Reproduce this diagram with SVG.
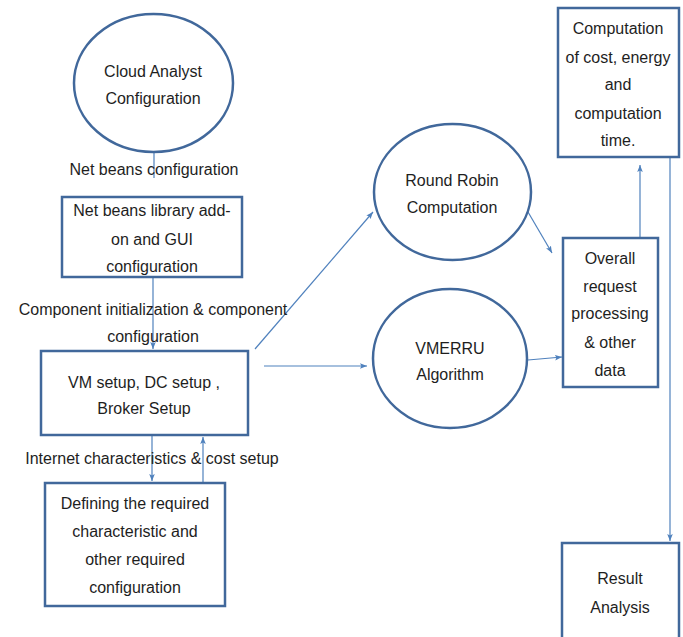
<svg xmlns="http://www.w3.org/2000/svg" width="683" height="637" viewBox="0 0 683 637">
<style>
.node{fill:#fff;stroke:#41689b;stroke-width:2.5}
.t{font-family:"Liberation Sans",Arial,sans-serif;font-size:16px;fill:#1e1e1e;text-anchor:middle;dominant-baseline:central}
.c{stroke:#4f81bd;stroke-width:1.2;fill:none}
</style>
<defs>
<marker id="ah" viewBox="0 0 10 10" refX="10" refY="5" markerWidth="7" markerHeight="7" markerUnits="userSpaceOnUse" orient="auto">
<path d="M0,1 L10,5 L0,9 L2,5 Z" fill="#4f81bd"/>
</marker>
</defs>
<rect width="683" height="637" fill="#fff"/>
<g id="connectors">
<line class="c" x1="154" y1="152" x2="154" y2="178"/>
<line class="c" x1="153" y1="277" x2="153" y2="349" marker-end="url(#ah)"/>
<line class="c" x1="152" y1="435" x2="152" y2="481" marker-end="url(#ah)"/>
<line class="c" x1="203" y1="512" x2="203" y2="437" marker-end="url(#ah)"/>
<line class="c" x1="255" y1="349" x2="373" y2="212" marker-end="url(#ah)"/>
<line class="c" x1="264" y1="366" x2="367" y2="366" marker-end="url(#ah)"/>
<line class="c" x1="528" y1="212" x2="552" y2="253" marker-end="url(#ah)"/>
<line class="c" x1="528" y1="360" x2="562" y2="357" marker-end="url(#ah)"/>
<line class="c" x1="640" y1="238" x2="640" y2="165" marker-end="url(#ah)"/>
<line class="c" x1="670" y1="157" x2="670" y2="541" marker-end="url(#ah)"/>
</g>
<g id="labels">
<text class="t" x="154" y="169">Net beans configuration</text>
<text class="t" x="153" y="309">Component initialization &amp; component</text>
<text class="t" x="153" y="336">configuration</text>
<text class="t" x="152" y="458">Internet characteristics &amp; cost setup</text>
</g>
<g id="cloud-analyst">
<ellipse class="node" cx="153.5" cy="83" rx="79.5" ry="69"/>
<text class="t" x="153" y="71">Cloud Analyst</text>
<text class="t" x="153" y="98">Configuration</text>
</g>
<g id="netbeans-library">
<rect class="node" x="62" y="197" width="180" height="80"/>
<text class="t" x="152" y="210">Net beans library add-</text>
<text class="t" x="152" y="239">on and GUI</text>
<text class="t" x="152" y="266">configuration</text>
</g>
<g id="vm-setup">
<rect class="node" x="41" y="351" width="207" height="84"/>
<text class="t" x="144" y="382">VM setup, DC setup ,</text>
<text class="t" x="144" y="408">Broker Setup</text>
</g>
<g id="defining">
<rect class="node" x="45" y="483" width="180" height="123"/>
<text class="t" x="135" y="503">Defining the required</text>
<text class="t" x="135" y="531">characteristic and</text>
<text class="t" x="135" y="559">other required</text>
<text class="t" x="135" y="587">configuration</text>
</g>
<g id="round-robin">
<ellipse class="node" cx="452.5" cy="192" rx="78.5" ry="68"/>
<text class="t" x="452" y="180">Round Robin</text>
<text class="t" x="452" y="207">Computation</text>
</g>
<g id="vmerru">
<ellipse class="node" cx="450" cy="358.5" rx="77" ry="69.5"/>
<text class="t" x="450" y="348">VMERRU</text>
<text class="t" x="450" y="374">Algorithm</text>
</g>
<g id="computation">
<rect class="node" x="558" y="8" width="121" height="149"/>
<text class="t" x="618" y="28">Computation</text>
<text class="t" x="618" y="57">of cost, energy</text>
<text class="t" x="618" y="84">and</text>
<text class="t" x="618" y="113">computation</text>
<text class="t" x="618" y="140">time.</text>
</g>
<g id="overall">
<rect class="node" x="563" y="238" width="95" height="149"/>
<text class="t" x="610" y="258">Overall</text>
<text class="t" x="610" y="286">request</text>
<text class="t" x="610" y="313">processing</text>
<text class="t" x="610" y="342">&amp; other</text>
<text class="t" x="610" y="370">data</text>
</g>
<g id="result">
<rect class="node" x="562" y="543" width="117" height="100"/>
<text class="t" x="620" y="578">Result</text>
<text class="t" x="620" y="607">Analysis</text>
</g>
</svg>
